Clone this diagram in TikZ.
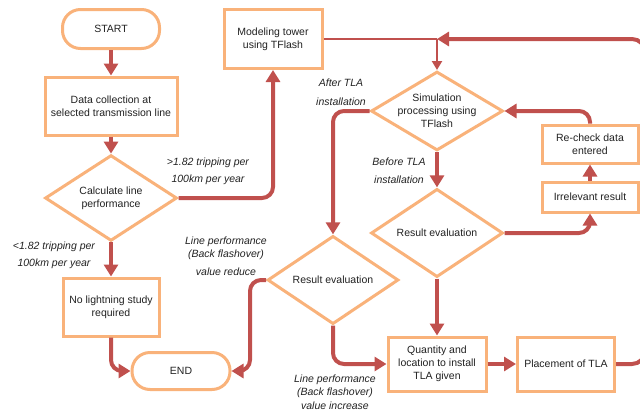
\documentclass[tikz,border=0pt]{standalone}
\usepackage{fontspec}
\setmainfont{Liberation Sans}
\usetikzlibrary{shapes.geometric,arrows.meta}
\definecolor{boxc}{HTML}{F9B27A}
\definecolor{arr}{HTML}{C0504D}
\definecolor{txt}{HTML}{222222}
\tikzset{
 base/.style={draw=boxc, line width=3pt, fill=white, text=txt, align=center, font=\fontsize{10.5}{13}\selectfont, inner sep=0pt},
 proc/.style={base, rectangle},
 term/.style={base, rectangle, rounded corners=18pt},
 decis/.style={base, diamond, minimum width=132pt, minimum height=79pt},
 arrowthick/.style={draw=arr, line width=4pt, rounded corners=11pt, -{Triangle[width=14pt,length=12pt]}},
 arrowthin/.style={draw=arr, line width=2.4pt, -{Triangle[width=10pt,length=9pt]}},
 lnthin/.style={draw=arr, line width=2.4pt},
 lab/.style={text=txt, font=\fontsize{10.5}{13}\selectfont\itshape, align=center, inner sep=0pt},
}
\begin{document}
\begin{tikzpicture}[x=1pt,y=-1pt]
\useasboundingbox (0,0) rectangle (640,410);
\clip (0,0) rectangle (640,410);
% nodes
\node[term, minimum width=97pt, minimum height=39pt] (start) at (111,29) {START};
\node[proc, minimum width=132pt, minimum height=58pt] (data) at (111,106) {Data collection at\\selected transmission line};
\node[decis] (calc) at (111,198) {Calculate line\\performance};
\node[proc, minimum width=96pt, minimum height=58pt] (nols) at (111,307) {No lightning study\\required};
\node[term, minimum width=98pt, minimum height=37pt] (end) at (181,371) {END};
\node[proc, minimum width=98pt, minimum height=59pt] (model) at (273,39) {Modeling tower\\using TFlash};
\node[decis, label={[font=\fontsize{10.5}{13}\selectfont, align=center, text=txt, inner sep=0pt]center:{Simulation\\processing using\\TFlash}}] (sim) at (437,111) {};
\node[proc, minimum width=96pt, minimum height=38pt] (recheck) at (590,144) {Re-check data\\entered};
\node[proc, minimum width=96pt, minimum height=30pt] (irr) at (590,197) {Irrelevant result};
\node[decis] (evalR) at (437,233) {Result evaluation};
\node[decis, minimum width=131pt, minimum height=78pt] (evalL) at (333,280) {Result evaluation};
\node[proc, minimum width=98pt, minimum height=54pt] (qty) at (437,364) {Quantity and\\location to install\\TLA given};
\node[proc, minimum width=97pt, minimum height=54pt] (place) at (566,364) {Placement of TLA};
% connectors
\draw[arrowthick] (start) -- (data);
\draw[arrowthick] (data) -- (calc);
\draw[arrowthick] (calc) -- (nols);
\draw[arrowthick] (nols.south) |- (end.west);
\draw[arrowthick] (calc.east) -| (model.south);
\coordinate (j1) at (sim.north |- model.east);
\draw[lnthin] (model.east) -- (j1);
\draw[arrowthin] (j1) -- (sim.north);
\coordinate (loopB) at ([xshift=29pt]place.east);
\coordinate (loopT) at (loopB |- j1);
\draw[arrowthick, rounded corners=13pt] (place.east) -- (loopB) -- (loopT) -- (j1);
\draw[arrowthick] (recheck.north) |- (sim.east);
\draw[arrowthick] (evalR.east) -| (irr.south);
\draw[arrowthick] (irr) -- (recheck);
\draw[arrowthick] (sim.south) -- (evalR.north);
\draw[arrowthick] (sim.west) -| (evalL.north);
\draw[arrowthick] (evalL.west) -- ++(-16,0) |- (end.east);
\draw[arrowthick] (evalL.south) |- (qty.west);
\draw[arrowthick] (evalR.south) -- (qty.north);
\draw[arrowthick] (qty) -- (place);
% labels
\node[lab] (l1) at (208,171.5) {>1.82 tripping per\\[4pt]100km per year};
\node[lab] (l2) at (54,255.5) {<1.82 tripping per\\[4pt]100km per year};
\node[lab] (l3) at (341,92) {After TLA\\[6pt]installation};
\node[lab] (l4) at (399,171) {Before TLA\\[5pt]installation};
\node[lab] (l5) at (226,256.5) {Line performance\\(Back flashover)\\[5pt]value reduce};
\node[lab] (l6) at (335,392) {Line performance\\(Back flashover)\\[1pt]value increase};
\end{tikzpicture}
\end{document}
